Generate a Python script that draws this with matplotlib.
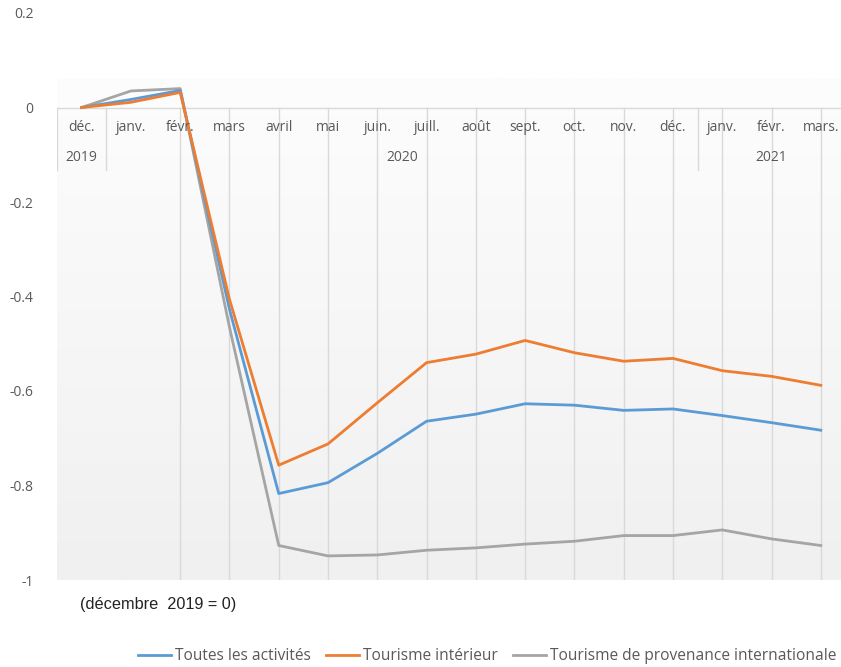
import numpy as np
import matplotlib
matplotlib.use("Agg")
from matplotlib import pyplot as plt

months = ["déc.", "janv.", "févr.", "mars", "avril", "mai", "juin.", "juill.",
          "août", "sept.", "oct.", "nov.", "déc.", "janv.", "févr.", "mars."]
years = ["2019", "2020", "2021"]
year_span = [(0, 0), (1, 12), (13, 15)]

toutes = [0, 0.017, 0.036, -0.427, -0.817, -0.794, -0.732, -0.664, -0.649,
          -0.627, -0.630, -0.641, -0.638, -0.652, -0.667, -0.683]
interieur = [0, 0.011, 0.032, -0.406, -0.757, -0.712, -0.625, -0.540, -0.522,
             -0.493, -0.519, -0.537, -0.531, -0.557, -0.569, -0.588]
international = [0, 0.035, 0.040, -0.465, -0.927, -0.949, -0.947, -0.937, -0.932,
                 -0.924, -0.918, -0.906, -0.906, -0.894, -0.913, -0.927]

yticks = [0.2, 0, -0.2, -0.4, -0.6, -0.8, -1]

txt = "#595959"
grid = "#d9d9d9"
plt.rcParams['font.family'] = ['Open Sans', 'DejaVu Sans']

fig = plt.figure(figsize=(8.41, 6.67), dpi=100)
ax = fig.add_axes([57/841, 87/667, 784/841, 567/667])
ax.set_facecolor("none")
x = np.arange(len(months))
xmax = 15.41
ax.set_xlim(-0.5, xmax)
ax.set_ylim(-1, 0.2)

# gradient background of the plot area
grad = np.linspace(0, 1, 256).reshape(-1, 1)
cmap = matplotlib.colors.LinearSegmentedColormap.from_list("g", ["#fdfdfd", "#f0f0f0"])
ax.imshow(grad, extent=[-0.5, xmax, -1, 0.062], aspect="auto", cmap=cmap,
          origin="upper", zorder=0)

# gridlines
ax.axhline(0, color=grid, lw=1, zorder=1)
for xi in x[2:]:
    ax.plot([xi, xi], [0, -1], color=grid, lw=1, zorder=1)
for xs in [-0.5, 0.5, 12.5]:
    ax.plot([xs, xs], [0, -0.133], color=grid, lw=1, zorder=1)

ax.plot(x, toutes, color="#5b9bd5", lw=2, zorder=3, label="Toutes les activités")
ax.plot(x, interieur, color="#ed7d31", lw=2, zorder=3, label="Tourisme intérieur")
ax.plot(x, international, color="#a5a5a5", lw=2, zorder=2, label="Tourisme de provenance internationale")

for xi, m in zip(x, months):
    ax.text(xi, -0.042, m, ha="center", va="center", fontsize=10, color=txt)
for (a, b), yr in zip(year_span, years):
    ax.text((a + b) / 2, -0.106, yr, ha="center", va="center", fontsize=10, color=txt)

ax.set_xticks([])
ax.set_yticks(yticks)
ax.set_yticklabels([f"{v:g}" for v in yticks], fontsize=10, color=txt)
ax.tick_params(axis="y", length=0, pad=17)
for s in ax.spines.values():
    s.set_visible(False)

fig.text(80/841, 1 - 605/667, "(décembre  2019 = 0)", fontsize=11.7, color="#222222",
         ha="left", va="center", family=["Liberation Sans Narrow", "Liberation Sans", "DejaVu Sans"])

fig.legend(loc="center", bbox_to_anchor=(487/841, 1 - 656/667), ncol=3, frameon=False,
           fontsize=11.2, labelcolor=txt, handlelength=2.1, handletextpad=0.25, columnspacing=1.0)

fig.savefig("out.png", dpi=100)
